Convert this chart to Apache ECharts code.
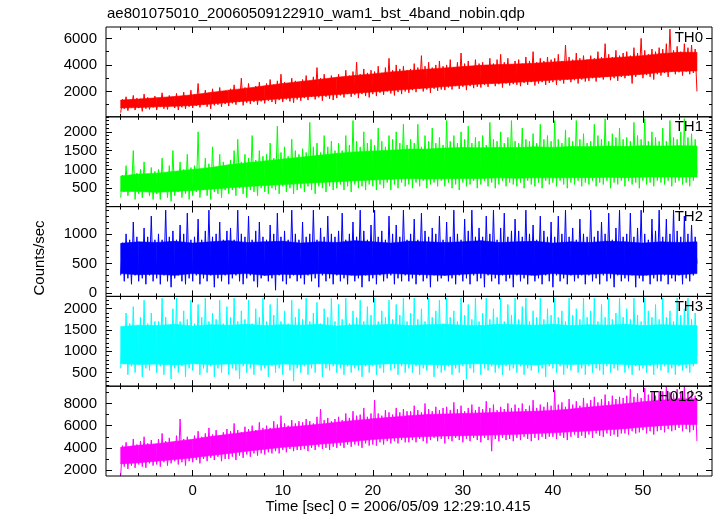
<!DOCTYPE html>
<html><head><meta charset="utf-8">
<script src="https://cdn.jsdelivr.net/npm/echarts@6/dist/echarts.min.js"></script>
<style>html,body{margin:0;padding:0;background:#fff}#c{width:717px;height:516px}</style>
</head><body><div id="c"></div>
<script>
const T_START = -8, T_STEP = 0.2;
const title = 'ae801075010_20060509122910_wam1_bst_4band_nobin.qdp';
const xTitle = 'Time [sec] 0 = 2006/05/09 12:29:10.415';
const yTitle = 'Counts/sec';
const panelNames = ['TH0', 'TH1', 'TH2', 'TH3', 'TH0123'];
const panelColors = ['#ff0000', '#00ff00', '#0000ff', '#00ffff', '#ff00ff'];

const th0 = [
 400,1400,700,1600,550,1350,800,1700,600,1500,750,1450,500,1800,700,1550,650,1400,800,1650,
 600,1500,850,1900,700,1450,650,1700,900,1600,750,1850,600,1500,800,1950,700,1650,850,2100,
 750,1800,900,2600,800,1700,1000,2100,850,1900,700,2200,950,1800,1000,2300,850,2000,1050,1900,
 900,2200,1100,2500,1000,2100,1200,3000,950,2300,1150,2600,1050,2200,1200,2400,1000,2700,1250,2300,
 1100,2600,1300,2900,1200,2500,1050,2800,1350,3300,1200,2700,1400,2600,1250,3000,1150,2800,1400,2700,
 1300,2900,1500,3200,1350,2800,1600,3100,1400,3800,1550,3000,1300,3300,1600,2900,1450,3200,1350,3000,
 1500,3300,1700,3100,1550,3600,1800,3200,1600,3500,1750,4200,1500,3300,1800,3700,1650,3400,1550,3600,
 1800,3500,1650,3900,1900,3400,1750,3800,2000,4500,1850,3600,1700,4000,1950,3700,1800,3900,2000,3600,
 1900,3700,2100,4100,1950,3800,2200,4700,2000,3900,2150,4200,1900,3800,2200,4000,2050,4300,2150,3900,
 2100,4000,2300,4400,2150,3800,2400,4200,2200,4900,2350,4100,2100,4300,2400,3900,2250,4400,2350,4100,
 2300,4200,2500,4000,2350,4500,2600,4100,2400,4400,2550,4800,2300,4200,2600,4500,2450,4000,2550,4300,
 2500,4400,2400,4100,2650,4600,2500,4300,2700,5000,2450,4200,2600,4500,2700,4300,2500,4600,2650,4400,
 2700,4500,2500,4800,2800,4300,2600,5500,2900,4600,2700,4400,2850,4900,2600,4500,2900,4700,2750,4400,
 2800,4700,3000,4500,2750,5000,3050,4600,2900,5600,3100,4800,2850,4600,3000,5100,2800,4700,3100,4900,
 3000,5000,3200,4700,2600,5300,3100,4900,3300,6000,3000,5100,3250,4800,3100,5200,2900,5000,3300,5300,
 3200,5200,3400,5600,3100,6700,3500,5100,3300,5400,3450,5000,3200,5600,3500,5300,3300,5500,3400,5200,
 2000];
const th1 = [
 250,850,400,1100,300,700,450,1500,200,900,350,1000,250,1200,400,800,300,1050,200,950,
 350,1000,200,1300,400,900,250,1100,150,1500,300,950,400,1200,250,1000,350,1400,200,1050,
 300,1100,400,2000,250,1000,450,1300,300,1150,200,1600,400,1050,350,1400,250,1200,450,1100,
 350,1250,450,1500,300,1800,500,1200,350,1400,250,1300,450,1900,400,1250,300,1500,500,1350,
 400,1400,350,1700,500,1300,450,2150,350,1450,550,1600,400,1350,500,1800,350,1500,450,1400,
 500,1550,400,1450,550,2250,450,1600,350,1700,550,1450,500,1900,400,1600,550,1750,450,1500,
 500,1700,600,1500,450,1900,550,1650,400,2300,600,1750,500,1600,550,2000,450,1700,600,1800,
 550,1650,450,2100,600,1750,500,1600,650,1900,450,1800,600,2000,500,1700,650,2200,550,1650,
 600,1800,500,1700,650,2200,550,1600,700,1900,500,1750,600,2100,650,1700,550,1850,700,1650,
 550,2300,650,1750,500,1900,600,1700,450,2000,650,1800,550,2150,600,1700,700,1850,500,1750,
 600,1900,700,1650,550,2250,650,1800,500,1750,600,2000,700,1700,550,1850,650,2300,600,1750,
 550,1700,650,2100,500,1800,700,1750,600,1950,550,1700,650,2200,500,1800,700,1900,600,1750,
 650,2300,550,1800,700,1700,600,2050,500,1850,650,1750,600,2300,700,1800,550,1950,650,1700,
 600,1750,700,2200,550,1900,650,1800,600,2350,700,1750,500,1950,650,1850,600,2100,700,1800,
 550,1850,700,1750,600,2250,650,1900,500,1800,700,2350,600,1750,650,2000,550,1850,700,1750,
 650,2100,600,1750,700,2300,550,1850,650,1800,700,2000,600,2350,650,1850,550,1950,700,1800,
 900];
const th2 = [
 300,850,200,1000,250,900,150,1200,300,950,200,850,250,1100,150,950,300,1300,200,900,
 250,1000,150,900,300,1400,200,950,100,1050,250,900,300,1150,200,1000,150,1350,250,900,
 200,950,300,1250,150,900,250,1050,200,1400,300,950,100,1000,250,1200,200,900,300,1050,
 150,1100,250,900,300,1400,200,1000,150,950,250,1300,300,900,200,1050,100,1200,250,950,
 300,900,200,1150,250,1000,50,1350,300,950,200,1050,150,900,250,1400,300,1000,200,900,
 250,1200,150,950,300,1000,200,1400,250,900,100,1100,300,950,200,1300,250,1000,150,950,
 300,1050,200,1350,250,900,150,1000,300,1200,200,950,250,1400,100,1050,300,900,200,1150,
 250,1400,150,950,300,1050,200,900,250,1300,300,1000,150,1150,250,950,200,1400,300,900,
 200,1000,250,1250,150,900,300,1350,200,1050,250,950,100,1100,300,1000,200,1300,250,900,
 300,1200,200,950,250,1400,150,1000,300,900,200,1250,250,1050,150,1400,300,950,200,1100,
 250,950,100,1300,300,1000,200,1400,250,900,150,1100,300,1350,200,950,250,1050,100,1250,
 300,1050,200,950,250,1400,150,1000,300,1150,200,900,250,1300,150,1050,300,950,200,1200,
 100,950,300,1300,200,1000,250,1400,150,950,300,1100,200,900,250,1250,300,1000,150,950,
 300,1400,200,950,250,1050,150,1200,300,1000,200,1350,250,900,100,1100,300,1400,200,950,
 250,1000,200,1350,300,950,100,1100,250,1400,200,1000,300,900,150,1250,250,1050,200,1400,
 200,950,300,1250,150,1000,250,1400,200,1050,300,950,150,1300,250,1000,200,1150,300,950,
 500];
const th3 = [
 600,1500,700,1900,450,1650,650,2050,500,1600,700,1800,400,2200,600,1650,550,1900,750,1700,
 500,1700,650,2250,450,1800,700,1600,350,2000,600,2250,500,1700,650,1950,400,1750,600,2200,
 550,1650,700,2100,450,1800,600,2250,500,1700,650,1900,400,1750,600,2200,500,1650,700,2050,
 450,1800,600,2250,550,1700,350,1950,650,1750,500,2200,600,1650,450,2000,700,1800,550,2250,
 600,1700,400,2100,650,1850,500,2250,600,1700,450,1950,700,1650,550,2200,300,1800,600,2000,
 500,1750,650,2250,450,1700,600,1900,500,2150,700,1650,400,2000,600,1800,550,2250,650,1700,
 500,2100,600,1750,450,2250,650,1650,500,1950,600,1800,550,2200,400,1700,650,2050,500,1850,
 650,2250,450,1700,600,1950,500,1800,700,2200,550,1750,600,2100,450,1850,650,2250,500,1700,
 600,1900,500,2250,650,1750,450,2000,600,1700,550,2250,700,1800,400,1950,600,2200,500,1650,
 550,2250,650,1800,450,1950,600,1700,500,2250,650,1850,350,2100,600,1750,500,2250,700,1700,
 450,1900,600,2250,550,1750,650,2000,500,1800,600,2250,450,1700,650,2100,550,1850,600,2250,
 500,1750,650,2050,450,2250,600,1700,550,1950,700,1800,500,2250,600,1750,400,2000,650,1850,
 600,2250,500,1800,650,1950,450,1700,600,2250,550,1850,700,2000,500,1750,600,2250,450,1800,
 650,1950,500,2250,600,1700,550,2100,450,1800,650,2250,500,1750,600,1900,550,2250,700,1800,
 500,2000,600,1750,450,2250,650,1850,550,1700,600,2250,500,1950,650,1800,450,2100,600,1750,
 550,2250,650,1800,500,1950,600,1700,450,2250,650,1850,550,2000,600,2250,500,1750,650,1900,
 900];
const th0123 = [
 1500,4200,2300,4500,2100,3900,2400,4800,2200,4300,2500,4600,2300,5000,2200,4400,2600,4700,2400,4300,
 2500,4800,2300,5300,2700,4600,2400,4900,2600,4500,2800,5100,2500,6600,2700,4800,2400,5000,2800,4700,
 2700,5100,2900,5500,2600,5000,3000,5300,2800,5800,3100,5200,2900,5600,3200,5100,2800,5400,3000,5700,
 3000,5500,3200,6200,2900,5600,3300,5400,3100,5900,3400,5700,3200,6000,3500,5600,3300,6300,3500,5800,
 3400,6000,3600,5800,3500,6400,3700,6100,3500,6900,3800,6200,3600,6000,3900,6500,3700,6200,3800,6400,
 3800,6300,3900,6600,3700,6400,4000,6200,3800,6800,4100,7500,3900,6500,4000,6700,3800,6400,4100,6600,
 4000,6800,4200,6500,4000,7100,4300,6700,4100,7300,4300,6900,4200,7000,4000,7600,4400,6800,4200,7100,
 4300,8300,4200,7100,4500,6900,4300,7400,4600,7200,4400,7000,4600,7600,4400,7200,4700,7500,4500,7300,
 4500,7300,4700,7800,4500,7400,4800,7200,4600,8000,4400,7500,4700,7300,4900,7700,4600,7400,4800,7600,
 4400,7700,4800,7400,4600,8100,4900,7500,4700,7800,4500,7300,4800,7600,4600,7900,4900,7400,4700,7700,
 4500,7500,4900,8200,4700,7600,3700,7900,4800,7400,4600,7700,4900,7500,4700,8000,4800,7600,4600,7900,
 4900,7600,4700,8000,5000,7500,4800,7800,4600,8300,4900,7600,4700,7900,5000,7700,4800,8100,5000,7800,
 5000,9200,4800,7900,5100,8100,4900,7700,4700,8400,5000,7900,5200,8200,4900,7800,5100,8500,4900,8000,
 5200,8300,4900,8600,5300,8100,5100,8400,5000,8800,5300,8200,5100,8700,5200,8400,5000,8600,5300,8500,
 5300,8700,5200,9300,5500,8600,5300,8900,5400,8500,5600,9400,5300,8800,5500,9000,5200,8700,5500,9100,
 5600,9100,5400,9500,5700,9000,5500,8900,5600,9300,5800,9100,5500,9600,5700,9000,5400,9200,5600,8700,
 4600];
const seriesValues = [th0, th1, th2, th3, th0123];

// dense core of each light curve (lower / upper edge), every 2 s from t = -8 s to 56 s
const BAND_START = -8, BAND_STEP = 2;
const th0CoreLow  = [750,785,840,890,950,1050,1175,1275,1365,1465,1565,1665,1765,1865,1965,2065,2165,2265,2365,2465,2565,2620,2700,2765,2855,2930,3025,3115,3200,3300,3445,3525,3550];
const th0CoreHigh = [1350,1425,1525,1625,1750,1925,2100,2250,2425,2600,2750,2900,3075,3200,3325,3475,3575,3675,3775,3875,3975,4025,4075,4125,4225,4300,4400,4500,4600,4700,4850,4950,4950];
const th1CoreLow  = [415,410,390,415,440,475,510,545,570,595,625,650,670,700,720,740,755,745,750,760,760,775,765,775,775,780,780,790,780,795,795,795,800];
const th1CoreHigh = [825,875,900,950,1000,1050,1125,1175,1225,1275,1325,1375,1425,1465,1490,1510,1540,1540,1570,1585,1575,1585,1580,1600,1585,1610,1605,1620,1610,1630,1620,1630,1625];
const th2CoreLow  = [330,310,320,300,330,310,320,330,300,320,310,330,320,300,310,330,320,310,300,320,330,310,320,300,330,310,320,330,310,300,320,310,330];
const th2CoreHigh = [840,865,855,875,845,865,885,855,865,875,845,865,855,885,865,845,875,865,855,865,885,855,865,875,845,865,855,875,865,845,865,855,865];
const th3CoreLow  = [710,690,700,680,710,690,700,710,680,700,690,710,700,680,690,710,700,690,680,700,710,690,700,680,710,690,700,710,690,680,700,690,710];
const th3CoreHigh = [1585,1615,1605,1635,1595,1625,1615,1635,1605,1625,1615,1635,1595,1625,1615,1635,1605,1625,1635,1615,1605,1635,1625,1615,1635,1605,1625,1615,1635,1605,1625,1615,1605];
const th0123CoreLow  = [2550,2650,2800,2950,3100,3300,3500,3700,3875,4050,4175,4325,4450,4600,4750,4875,4950,5025,5075,5100,5125,5175,5225,5300,5350,5450,5525,5625,5725,5875,6000,6100,6100];
const th0123CoreHigh = [4050,4225,4375,4575,4775,5025,5225,5425,5625,5825,5975,6125,6300,6475,6625,6750,6900,7000,7050,7100,7150,7200,7250,7300,7375,7500,7675,7825,7975,8150,8300,8425,8400];
const coreLow  = [th0CoreLow, th1CoreLow, th2CoreLow, th3CoreLow, th0123CoreLow];
const coreHigh = [th0CoreHigh, th1CoreHigh, th2CoreHigh, th3CoreHigh, th0123CoreHigh];

// ---- axes / ticks ----
const xRange = [-9.63, 57.67];
const xMajorTicks = [0, 10, 20, 30, 40, 50];
const xMinorTicks = [-8,-6,-4,-2,2,4,6,8,12,14,16,18,22,24,26,28,32,34,36,38,42,44,46,48,52,54,56];
const yRanges = [[90, 6860], [10, 2400], [-55, 1460], [180, 2290], [1460, 9560]];
const yMajorTicks = [[2000, 4000, 6000], [500, 1000, 1500, 2000], [0, 500, 1000], [500, 1000, 1500, 2000], [2000, 4000, 6000, 8000]];
const yMinorStep = [1000, 100, 100, 100, 1000];

function minorList(range, step, majors) {
  const out = [];
  for (let v = Math.ceil(range[0] / step) * step; v <= range[1]; v += step) {
    if (majors.indexOf(v) < 0) out.push(v);
  }
  return out;
}

const FONT = 'Liberation Sans, Arial, Helvetica, sans-serif';
const GRID_LEFT = 106, GRID_RIGHT = 5, GRID_TOP = 27, PANEL_H = 89.8;
const plain = v => String(v);

const grids = [], xAxes = [], yAxes = [], series = [], graphics = [];
seriesValues.forEach((vals, k) => {
  const top = GRID_TOP + k * PANEL_H;
  grids.push({left: GRID_LEFT, right: GRID_RIGHT, top: top, height: PANEL_H, show: true,
    borderColor: '#000', borderWidth: 1, backgroundColor: 'transparent', z: 5});
  const baseX = {type: 'value', gridIndex: k, min: xRange[0], max: xRange[1],
    axisLine: {show: false, onZero: false}, splitLine: {show: false}};
  const xIdx = xAxes.length;
  [['bottom', xMajorTicks, 6, k === 4], ['bottom', xMinorTicks, 3, false],
   ['top', xMajorTicks, 6, false], ['top', xMinorTicks, 3, false]].forEach(d => {
    xAxes.push(Object.assign({}, baseX, {position: d[0],
      axisTick: {show: true, inside: true, length: d[2], customValues: d[1], lineStyle: {color: '#000', width: 1}},
      axisLabel: {show: d[3], customValues: d[1], formatter: plain, margin: 7, color: '#000', fontSize: 15, fontFamily: FONT}}));
  });
  const yr = yRanges[k], ym = yMajorTicks[k], yn = minorList(yr, yMinorStep[k], ym);
  const baseY = {type: 'value', gridIndex: k, min: yr[0], max: yr[1],
    axisLine: {show: false, onZero: false}, splitLine: {show: false}};
  const yIdx = yAxes.length;
  [['left', ym, 6, true], ['left', yn, 3, false], ['right', ym, 6, false], ['right', yn, 3, false]].forEach(d => {
    yAxes.push(Object.assign({}, baseY, {position: d[0],
      axisTick: {show: true, inside: true, length: d[2], customValues: d[1], lineStyle: {color: '#000', width: 1}},
      axisLabel: {show: d[3], customValues: d[1], formatter: plain, margin: 9, color: '#000', fontSize: 15, fontFamily: FONT}}));
  });
  // dense core band, drawn segment by segment through the axes
  const lo = coreLow[k], hi = coreHigh[k], bandData = [];
  for (let i = 0; i + 1 < lo.length; i++) {
    bandData.push([BAND_START + i * BAND_STEP, lo[i], hi[i], BAND_START + (i + 1) * BAND_STEP, lo[i + 1], hi[i + 1]]);
  }
  const col = panelColors[k];
  series.push({type: 'custom', xAxisIndex: xIdx, yAxisIndex: yIdx, animation: false, silent: true, z: 2,
    encode: {x: [0, 3], y: [1, 2, 4, 5]},
    renderItem: (params, api) => ({
      type: 'polygon',
      shape: {points: [
        api.coord([api.value(0), api.value(1)]), api.coord([api.value(3), api.value(4)]),
        api.coord([api.value(3), api.value(5)]), api.coord([api.value(0), api.value(2)])]},
      style: {fill: col, stroke: col, lineWidth: 0.6}
    }),
    data: bandData});
  // the light curve itself
  series.push({type: 'line', xAxisIndex: xIdx, yAxisIndex: yIdx, showSymbol: false, symbol: 'none',
    animation: false, sampling: 'none', clip: true, z: 3,
    lineStyle: {color: col, width: 1}, itemStyle: {color: col},
    data: vals.map((v, i) => [+(T_START + i * T_STEP).toFixed(2), v])});
  graphics.push({type: 'text', right: 14, top: top + 3, z: 100,
    style: {text: panelNames[k], fill: '#000', font: '15px ' + FONT, textAlign: 'right'}});
});

graphics.push({type: 'text', left: 107, top: 6, style: {text: title, fill: '#000', font: '15px ' + FONT}});
graphics.push({type: 'text', x: 398, y: 507, style: {text: xTitle, fill: '#000', font: '15px ' + FONT, textAlign: 'center', textVerticalAlign: 'middle'}});
graphics.push({type: 'text', x: 40, y: 258, rotation: Math.PI / 2, style: {text: yTitle, fill: '#000', font: '15px ' + FONT, textAlign: 'center', textVerticalAlign: 'middle'}});

const chart = echarts.init(document.getElementById('c'), null, {renderer: 'canvas'});
chart.setOption({
  animation: false,
  backgroundColor: '#fff',
  grid: grids, xAxis: xAxes, yAxis: yAxes, series: series, graphic: graphics
});
</script></body></html>
